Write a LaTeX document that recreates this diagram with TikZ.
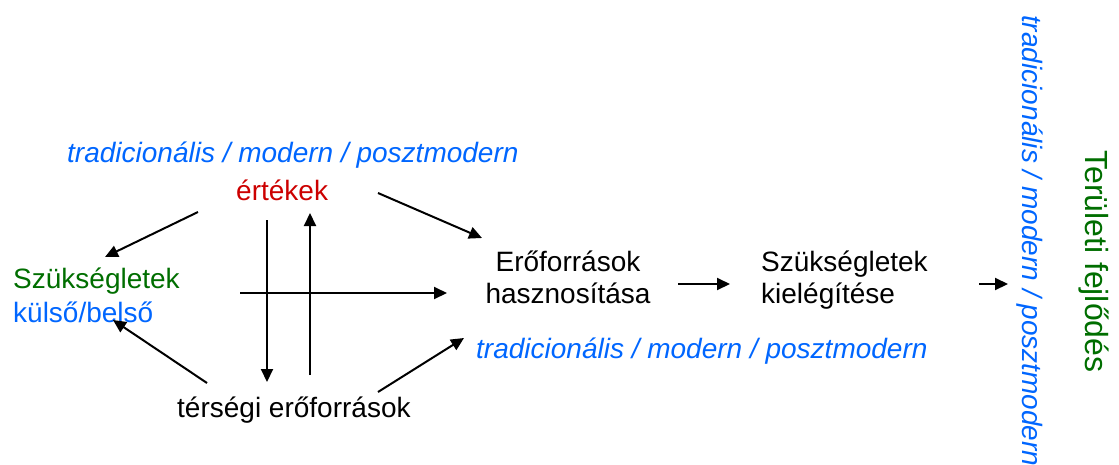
\documentclass[tikz,border=0pt]{standalone}
\usepackage{fontspec}
\setmainfont{Liberation Sans}
\usetikzlibrary{arrows.meta}
\definecolor{tblue}{RGB}{0,102,255}
\definecolor{tred}{RGB}{204,0,0}
\definecolor{tgreen}{RGB}{0,110,0}
\begin{document}
\begin{tikzpicture}[x=1pt,y=-1pt,
  lbl/.style={inner sep=0pt, font=\fontsize{28}{32}\selectfont},
  era/.style={inner sep=0pt, text=tblue, font=\fontsize{28}{32}\selectfont\itshape},
  arr/.style={line width=2pt, -{Triangle[length=13pt,width=12pt]}}]
\useasboundingbox (0,0) rectangle (1119,464);
% texts
\node[era, anchor=base west] (era1) at (67,162) {tradicionális / modern / posztmodern};
\node[lbl, text=tred, anchor=base west] (ert) at (236,200) {értékek};
\node[lbl, text=tgreen, anchor=base west] (szuk) at (13,288) {Szükségletek};
\node[lbl, text=tblue, anchor=base west] (kb) at (13,322) {külső/belső};
\node[lbl, anchor=base, align=center] (eroh) at (568,303) {Erőforrások\\hasznosítása};
\node[lbl, anchor=base west, align=left] (szki) at (761,303) {Szükségletek\\kielégítése};
\node[era, anchor=base west] (era2) at (476,358) {tradicionális / modern / posztmodern};
\node[lbl, anchor=base west] (ters) at (177,417) {térségi erőforrások};
\node[era, rotate=-90, anchor=base west] (era3) at (1022,15) {tradicionális / modern / posztmodern};
\node[inner sep=0pt, text=tgreen, font=\fontsize{32}{36}\selectfont, rotate=-90, anchor=base west] (fejl) at (1085,150) {Területi fejlődés};
% connector end points
\coordinate (a1s) at (198,212); \coordinate (a1e) at (105,257);
\coordinate (a2s) at (267,220); \coordinate (a2e) at (267,382);
\coordinate (a3s) at (310,375); \coordinate (a3e) at (310,213);
\coordinate (a4s) at (240,293); \coordinate (a4e) at (447,293);
\coordinate (a5s) at (378,193); \coordinate (a5e) at (482,238);
\coordinate (a6s) at (207,383); \coordinate (a6e) at (113,320);
\coordinate (a7s) at (378,392); \coordinate (a7e) at (464,338);
\coordinate (a8s) at (678,284); \coordinate (a8e) at (730,284);
\coordinate (a9s) at (979,284); \coordinate (a9e) at (1008,284);
% connectors
\draw[arr] (a1s) -- (a1e);
\draw[arr] (a2s) -- (a2e);
\draw[arr] (a3s) -- (a3e);
\draw[arr] (a4s) -- (a4e);
\draw[arr] (a5s) -- (a5e);
\draw[arr] (a6s) -- (a6e);
\draw[arr] (a7s) -- (a7e);
\draw[arr] (a8s) -- (a8e);
\draw[arr] (a9s) -- (a9e);
\end{tikzpicture}
\end{document}
